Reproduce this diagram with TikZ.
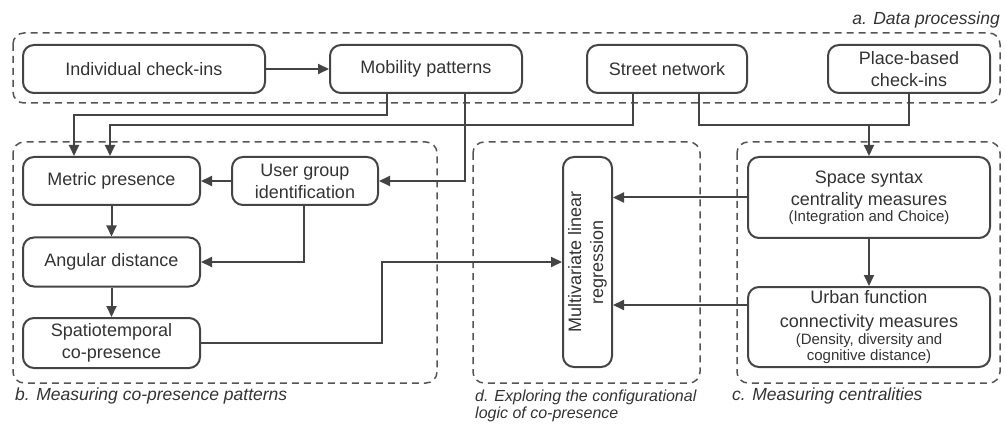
\documentclass[tikz,border=0pt]{standalone}
\usepackage{fontspec}
\setmainfont{Liberation Sans}
\usetikzlibrary{arrows.meta}
\definecolor{ink}{HTML}{333333}
\definecolor{edge}{HTML}{444444}
\definecolor{dash}{HTML}{555555}
\newcommand{\smtxt}{\fontsize{15}{17}\selectfont}
\begin{document}
\begin{tikzpicture}[x=1pt,y=-1pt,
  box/.style={draw=edge, line width=2pt, rounded corners=11pt, align=center, text=ink,
    font=\fontsize{18}{22}\selectfont, inner sep=0pt},
  grp/.style={draw=dash, line width=1.5pt, dash pattern=on 7pt off 5pt, rounded corners=11pt},
  glabel/.style={text=ink, font=\fontsize{17.5}{19}\selectfont\itshape, inner sep=0pt},
  arr/.style={draw=edge, line width=2pt, -{Triangle[length=11pt,width=10pt]}},
  ln/.style={draw=edge, line width=2pt}
]
\useasboundingbox (0,0) rectangle (1005,425);
% groups
\draw[grp] (13,33) rectangle (1000,103);
\draw[grp] (13,142) rectangle (437,383);
\draw[grp] (473,142) rectangle (700,383);
\draw[grp] (737,142) rectangle (1000,383);
\node[glabel, anchor=east] (la) at (1000,20) {a. Data processing};
\node[glabel, anchor=west] (lb) at (15,396) {b. Measuring co-presence patterns};
\node[glabel, anchor=west] (lc) at (732,396) {c. Measuring centralities};
\node[glabel, anchor=north west, align=left, font=\fontsize{16}{17}\selectfont\itshape] (ld) at (475,390) {d. Exploring the configurational\\logic of co-presence};
% nodes
\node[box, minimum width=242, minimum height=48] (ind) at (144,69) {Individual check-ins};
\node[box, minimum width=192, minimum height=48] (mob) at (426,69) {Mobility patterns};
\node[box, minimum width=160, minimum height=48] (street) at (667,69) {Street network};
\node[box, minimum width=162, minimum height=48] (place) at (909,69) {Place-based\\check-ins};
\node[box, minimum width=177, minimum height=48] (metric) at (111.5,181) {Metric presence};
\node[box, minimum width=146, minimum height=48] (user) at (305,181) {User group\\identification};
\node[box, minimum width=177, minimum height=49] (angular) at (111.5,262) {Angular distance};
\node[box, minimum width=177, minimum height=50] (spatio) at (111.5,343) {Spatiotemporal\\co-presence};
\node[box, minimum width=49, minimum height=210] (reg) at (587.5,262) {};
\node[rotate=90, align=center, text=ink, font=\fontsize{18}{22}\selectfont, inner sep=0pt] (regt) at (reg.center) {Multivariate linear\\regression};
\node[box, minimum width=242, minimum height=81] (space) at (869,197.5) {Space syntax\\centrality measures\\[-6pt]\smtxt (Integration and Choice)};
\node[box, minimum width=242, minimum height=80] (urban) at (869,327) {Urban function\\[2pt]connectivity measures\\[-5pt]\smtxt (Density, diversity and\\[-6pt]\smtxt cognitive distance)};
% connectors
\draw[arr] (ind.east) -- (mob.west);
\draw[arr] ([xshift=-39pt]mob.south) |- (74,115) -- (metric.north -| 74,0);
\draw[arr] ([xshift=-34pt]street.south) |- (110,125) -- (metric.north -| 110,0);
\draw[arr] ([xshift=39pt]mob.south) |- (user.east);
\draw[ln] ([xshift=32pt]street.south) |- (place.south |- 0,125) -- (place.south);
\draw[arr] (space.north |- 0,125) -- (space.north);
\draw[arr] (user.west) -- (metric.east);
\draw[arr] (metric.south) -- (angular.north);
\draw[arr] (angular.south) -- (spatio.north);
\draw[arr] ([xshift=-1pt]user.south) |- (angular.east);
\draw[arr] (spatio.east) -- (382,343) |- (reg.west);
\draw[arr] (space.west) -- (reg.east |- space.west);
\draw[arr] ([yshift=22pt]urban.west) -- (reg.east |- 0,305);
\draw[arr] (space.south) -- (urban.north);
\end{tikzpicture}
\end{document}
